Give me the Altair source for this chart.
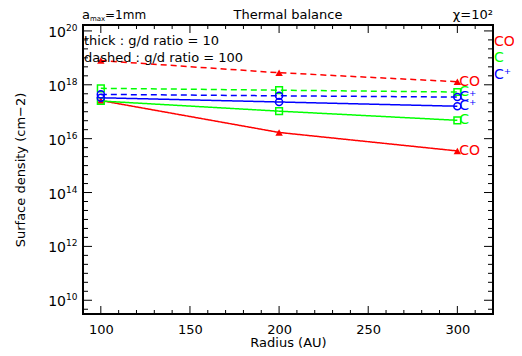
import altair as alt
import pandas as pd

# ---- data ----
radius = [100, 200, 300]
species = ["CO", "C", "C+"]
species_labels = ["CO", "C", "C⁺"]
species_colors = ["#ff0000", "#00ff00", "#0000ff"]
ratios = ["10", "100"]

# thick lines : g/d ratio = 10
co_gd10 = [2.6e17, 1.7e16, 3.5e15]
c_gd10 = [2.5e17, 1.05e17, 4.8e16]
cp_gd10 = [3.3e17, 2.3e17, 1.6e17]
# dashed lines : g/d ratio = 100
co_gd100 = [7.9e18, 2.8e18, 1.3e18]
c_gd100 = [7.4e17, 6.3e17, 5.4e17]
cp_gd100 = [4.4e17, 3.9e17, 3.5e17]

x_major = [100, 150, 200, 250, 300]
x_minor = [90, 110, 120, 130, 140, 160, 170, 180, 190, 210, 220, 230, 240,
           260, 270, 280, 290, 310, 320]
y_major = [1e10, 1e12, 1e14, 1e16, 1e18, 1e20]
y_major_exponents = ["10", "12", "14", "16", "18", "20"]
y_minor = [10 ** (k / 3) for k in range(29, 61) if k % 6 != 0]

FONT = "DejaVu Sans"
W, H = 410, 289

series = {
    ("CO", "10"): co_gd10, ("C", "10"): c_gd10, ("C+", "10"): cp_gd10,
    ("CO", "100"): co_gd100, ("C", "100"): c_gd100, ("C+", "100"): cp_gd100,
}
rows = []
for (sp, ratio), vals in series.items():
    lab = species_labels[species.index(sp)]
    for r, v in zip(radius, vals):
        rows.append(dict(species=sp, label=lab, ratio=ratio, radius=r,
                         value=v, series=sp + "_" + ratio))
df = pd.DataFrame(rows)

xscale = alt.Scale(domain=[90, 320], nice=False, zero=False)
yscale = alt.Scale(type="log", domain=[10 ** 9.49, 10 ** 20.22], nice=False)
cscale = alt.Scale(domain=species, range=species_colors)

x_axis = alt.Axis(values=x_major, ticks=False, domain=False, grid=False,
                  labelFont=FONT, labelFontSize=13, labelColor="black",
                  labelPadding=9, title="Radius (AU)", titleFont=FONT,
                  titleFontSize=13, titleFontWeight="normal",
                  titleColor="black", titlePadding=0)
y_axis = alt.Axis(values=y_major, labels=False, ticks=False,
                  domain=False, grid=False,
                  title="Surface density (cm−2)", titleFont=FONT,
                  titleFontSize=13, titleFontWeight="normal",
                  titleColor="black", titlePadding=56)

X = alt.X("radius:Q", scale=xscale, axis=x_axis)
Y = alt.Y("value:Q", scale=yscale, axis=y_axis)
C = alt.Color("species:N", scale=cscale, legend=None)

base = alt.Chart(df)

lines = base.mark_line(strokeWidth=1.5).encode(
    x=X, y=Y, color=C,
    strokeDash=alt.StrokeDash("ratio:N",
                              scale=alt.Scale(domain=ratios, range=[[1, 0], [6, 4]]),
                              legend=None),
    detail="series:N",
)

tri = base.transform_filter(alt.datum.species == "CO").mark_point(
    shape="triangle-up", filled=True, size=55, opacity=1).encode(x=X, y=Y, color=C)
sq = base.transform_filter(alt.datum.species == "C").mark_point(
    shape="square", filled=False, size=45, strokeWidth=1.5, opacity=1).encode(x=X, y=Y, color=C)
circ = base.transform_filter(alt.datum.species == "C+").mark_point(
    shape="circle", filled=False, size=50, strokeWidth=1.5, opacity=1).encode(x=X, y=Y, color=C)

end_labels = base.transform_filter(alt.datum.radius == 300).mark_text(
    align="left", baseline="middle", dx=2, font=FONT, fontSize=14).encode(
    x=X, y=Y, text="label:N", color=C)

# ---- y tick labels: 10 with superscript exponent ----
ylab = pd.DataFrame({"value": y_major, "exp": y_major_exponents})
ylab_base = alt.Chart(ylab).mark_text(
    align="right", baseline="middle", font=FONT, fontSize=14, color="black", dy=2
).encode(y=Y, x=alt.value(-17), text=alt.value("10"))
ylab_exp = alt.Chart(ylab).mark_text(
    align="left", baseline="middle", font=FONT, fontSize=9, color="black", dy=-3
).encode(y=Y, x=alt.value(-17), text="exp:N")

# ---- inward ticks ----
def xticks(vals, length):
    d = pd.DataFrame({"radius": vals})
    b = alt.Chart(d).mark_rule(color="black", strokeWidth=1)
    bottom = b.encode(x=X, y=alt.value(H), y2=alt.value(H - length))
    top = b.encode(x=X, y=alt.value(0), y2=alt.value(length))
    return [bottom, top]

def yticks(vals, length):
    d = pd.DataFrame({"value": vals})
    b = alt.Chart(d).mark_rule(color="black", strokeWidth=1)
    left = b.encode(y=Y, x=alt.value(0), x2=alt.value(length))
    right = b.encode(y=Y, x=alt.value(W), x2=alt.value(W - length))
    return [left, right]

ticks = xticks(x_major, 8) + xticks(x_minor, 4) + yticks(y_major, 9) + yticks(y_minor, 5)

# ---- annotations ----
def note(text, x, y, color="black", align="left", size=13):
    return alt.Chart(pd.DataFrame({"t": [text]})).mark_text(
        align=align, baseline="middle", font=FONT, fontSize=size, color=color
    ).encode(text="t:N", x=alt.value(x), y=alt.value(y))

notes = [
    note("a", -1, -10),
    note("max", 7, -6, size=7),
    note("=1mm", 22, -10, size=12),
    note("Thermal balance", W / 2, -10, align="center"),
    note("χ=10²", W, -10, align="right"),
    note("thick : g/d ratio = 10", 1, 16),
    note("dashed : g/d ratio = 100", 1, 33),
    note(species_labels[0], W + 1, 17, color=species_colors[0], size=14),
    note(species_labels[1], W + 1, 33, color=species_colors[1], size=14),
    note(species_labels[2], W + 1, 50, color=species_colors[2], size=14),
]

chart = alt.layer(lines, tri, sq, circ, end_labels, ylab_base, ylab_exp,
                  *ticks, *notes).properties(
    width=W, height=H,
    padding={"left": 75, "top": 17, "right": 21, "bottom": 34},
    autosize=alt.AutoSizeParams(type="none"),
    background="white",
).configure_view(stroke="black", strokeWidth=2)

chart.save("out.html", embed_options={"renderer": "svg", "actions": False})
